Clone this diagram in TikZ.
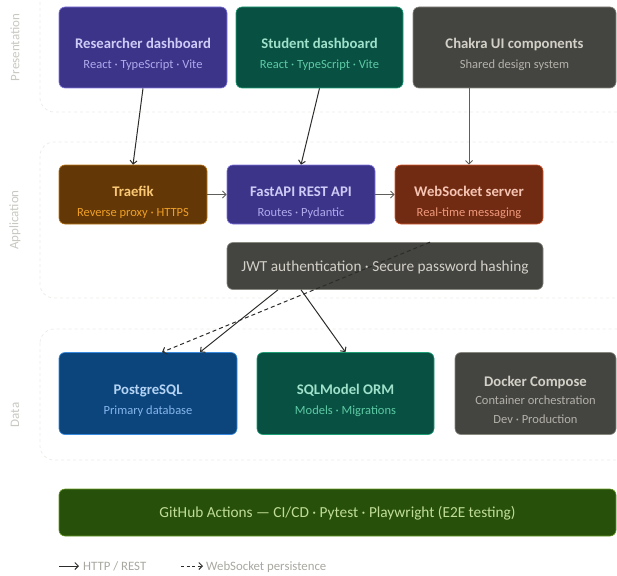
\documentclass[tikz,border=0pt]{standalone}
\usepackage{fontspec}
\setmainfont{Carlito}
\usetikzlibrary{arrows.meta}
\definecolor{pfill}{HTML}{3C3489}\definecolor{pline}{HTML}{7F77DD}\definecolor{ptitle}{HTML}{CECBF6}\definecolor{psub}{HTML}{AFA9EC}
\definecolor{tfill}{HTML}{085041}\definecolor{tline}{HTML}{1D9E75}\definecolor{ttitle}{HTML}{9FE1CB}\definecolor{tsub}{HTML}{5DCAA5}
\definecolor{gfill}{HTML}{444441}\definecolor{gline}{HTML}{888780}\definecolor{gtitle}{HTML}{D3D1C7}\definecolor{gsub}{HTML}{B4B2A9}
\definecolor{afill}{HTML}{633806}\definecolor{aline}{HTML}{BA7517}\definecolor{atitle}{HTML}{FAC775}\definecolor{asub}{HTML}{EF9F27}
\definecolor{cfill}{HTML}{712B13}\definecolor{cline}{HTML}{D85A30}\definecolor{ctitle}{HTML}{F5C4B3}\definecolor{csub}{HTML}{F0997B}
\definecolor{bfill}{HTML}{0C447C}\definecolor{bline}{HTML}{378ADD}\definecolor{btitle}{HTML}{B5D4F4}\definecolor{bsub}{HTML}{85B7EB}
\definecolor{grfill}{HTML}{27500A}\definecolor{grline}{HTML}{639922}\definecolor{grtext}{HTML}{C0DD97}
\definecolor{arrc}{HTML}{2C2C2A}\definecolor{arrg}{HTML}{5F5E5A}
\definecolor{lanec}{HTML}{EAEAE7}\definecolor{lblc}{HTML}{C8C7C0}\definecolor{legc}{HTML}{A8A7A0}
\begin{document}
\begin{tikzpicture}[x=1pt,y=-1pt,
  box/.style={draw, rounded corners=6pt, line width=0.6pt, inner sep=0pt},
  ttl/.style={anchor=base, font=\fontsize{14.7}{17}\selectfont\bfseries, inner sep=0pt},
  subt/.style={anchor=base, font=\fontsize{12.5}{14}\selectfont, inner sep=0pt},
  plain/.style={anchor=base, font=\fontsize{15.3}{17}\selectfont, inner sep=0pt},
  lane/.style={draw=lanec, dash pattern=on 3pt off 3pt, rounded corners=14pt, line width=0.7pt},
  lanelbl/.style={rotate=90, font=\fontsize{13}{15}\selectfont, text=lblc, inner sep=0pt},
  flow/.style={draw=arrc, line width=1pt, -{Straight Barb[length=3.5pt,width=7pt]}},
  legtxt/.style={anchor=base west, font=\fontsize{12.8}{14}\selectfont, text=legc, inner sep=0pt},
]
\useasboundingbox (0,0) rectangle (617,575);
\clip (0,0) rectangle (617,575);
% lanes
\path[lane] (40,-18) rectangle (640,112);
\path[lane] (40,142) rectangle (640,298);
\path[lane] (40,329) rectangle (640,460);
\node[lanelbl] (l1) at (15,47.5) {Presentation};
\node[lanelbl] (l2) at (15,220) {Application};
\node[lanelbl] (l3) at (15,415) {Data};
% presentation
\node[box, fill=pfill, draw=pline, minimum width=168pt, minimum height=81pt] (rd) at (143,47.5) {};
\node[ttl, text=ptitle] (rdt) at ([yshift=-1pt]rd.center) {Researcher dashboard};
\node[subt, text=psub] (rds) at ([yshift=-21pt]rd.center) {React · TypeScript · Vite};
\node[box, fill=tfill, draw=tline, minimum width=167pt, minimum height=81pt] (sd) at (319.5,47.5) {};
\node[ttl, text=ttitle] (sdt) at ([yshift=-1pt]sd.center) {Student dashboard};
\node[subt, text=tsub] (sds) at ([yshift=-21pt]sd.center) {React · TypeScript · Vite};
\node[box, fill=gfill, draw=gline, minimum width=203pt, minimum height=81pt] (ck) at (514.5,47.5) {};
\node[ttl, text=gtitle] (ckt) at ([yshift=-1pt]ck.center) {Chakra UI components};
\node[subt, text=gsub] (cks) at ([yshift=-21pt]ck.center) {Shared design system};
% application
\node[box, fill=afill, draw=aline, minimum width=148pt, minimum height=59pt] (tr) at (133,194.5) {};
\node[ttl, text=atitle] (trt) at ([yshift=-2pt]tr.center) {Traefik};
\node[subt, text=asub] (trs) at ([yshift=-21.5pt]tr.center) {Reverse proxy · HTTPS};
\node[box, fill=pfill, draw=pline, minimum width=148pt, minimum height=59pt] (api) at (301,194.5) {};
\node[ttl, text=ptitle] (apit) at ([yshift=-2pt]api.center) {FastAPI REST API};
\node[subt, text=psub] (apis) at ([yshift=-21.5pt]api.center) {Routes · Pydantic};
\node[box, fill=cfill, draw=cline, minimum width=148pt, minimum height=59pt] (ws) at (469,194.5) {};
\node[ttl, text=ctitle] (wst) at ([yshift=-2pt]ws.center) {WebSocket server};
\node[subt, text=csub] (wss) at ([yshift=-21.5pt]ws.center) {Real-time messaging};
\node[box, fill=gfill, draw=gline, minimum width=316pt, minimum height=47pt] (jwt) at (385,266) {};
\node[plain, text=gtitle] (jwtt) at ([yshift=-5pt]jwt.center) {JWT authentication · Secure password hashing};
% data
\node[box, fill=bfill, draw=bline, minimum width=178pt, minimum height=82pt] (pg) at (148,393.5) {};
\node[ttl, text=btitle] (pgt) at ([yshift=-1pt]pg.center) {PostgreSQL};
\node[subt, text=bsub] (pgs) at ([yshift=-21pt]pg.center) {Primary database};
\node[box, fill=tfill, draw=tline, minimum width=177pt, minimum height=82pt] (sq) at (345.5,393.5) {};
\node[ttl, text=ttitle] (sqt) at ([yshift=-1pt]sq.center) {SQLModel ORM};
\node[subt, text=tsub] (sqs) at ([yshift=-21pt]sq.center) {Models · Migrations};
\node[box, fill=gfill, draw=gline, minimum width=161pt, minimum height=82pt] (dk) at (535.5,393.5) {};
\node[ttl, text=gtitle] (dkt) at ([yshift=7pt]dk.center) {Docker Compose};
\node[subt, text=gsub] (dks1) at ([yshift=-11pt]dk.center) {Container orchestration};
\node[subt, text=gsub] (dks2) at ([yshift=-30pt]dk.center) {Dev · Production};
% CI
\node[box, fill=grfill, draw=grline, minimum width=557pt, minimum height=47pt] (gh) at (337.5,512.5) {};
\node[plain, text=grtext] (ght) at ([yshift=-5pt]gh.center) {GitHub Actions — CI/CD · Pytest · Playwright (E2E testing)};
% connectors
\draw[flow] (rd.south) -- (tr.north);
\draw[flow] (sd.south) -- (api.north);
\draw[flow, draw=arrg] (ws.north |- ck.south) -- (ws.north);
\draw[flow, draw=arrg] (tr.east) -- (api.west);
\draw[flow, draw=arrg] (api.east) -- (ws.west);
\draw[flow] ([xshift=-107pt]jwt.south) -- ([xshift=52pt]pg.north);
\draw[flow] ([xshift=-84pt]jwt.south) -- (sq.north);
\draw[flow, dash pattern=on 4pt off 3pt] ([xshift=45pt]jwt.north) -- ([xshift=14pt]pg.north);
% legend
\coordinate (la1) at (59,566);
\coordinate (la2) at (79,566);
\coordinate (lb1) at (181,566);
\coordinate (lb2) at (203,566);
\draw[flow] (la1) -- (la2);
\node[legtxt] (lat) at (83,570) {HTTP / REST};
\draw[flow, dash pattern=on 3pt off 2.5pt] (lb1) -- (lb2);
\node[legtxt] (lbt) at (206,570) {WebSocket persistence};
\end{tikzpicture}
\end{document}
